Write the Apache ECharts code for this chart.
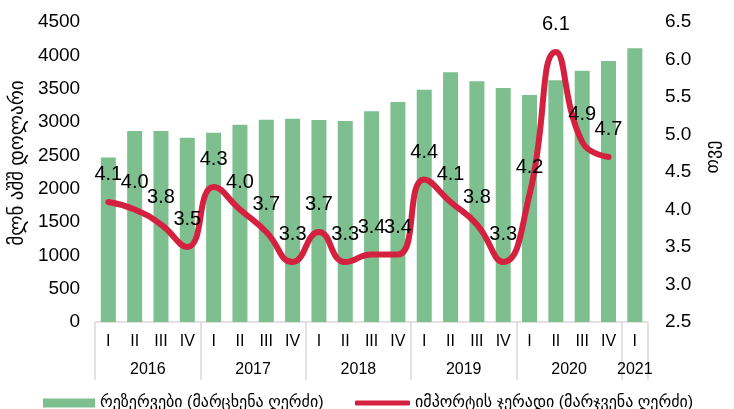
<!DOCTYPE html>
<html>
<head>
<meta charset="utf-8">
<script src="https://cdn.jsdelivr.net/npm/echarts@6/dist/echarts.min.js"></script>
<style>
  html, body { margin: 0; padding: 0; background: #fff; }
  #chart { width: 734px; height: 409px; }
</style>
</head>
<body>
<div id="chart"></div>
<script>
// quarters and years on the category axis
const quarters = ['I', 'II', 'III', 'IV', 'I', 'II', 'III', 'IV', 'I', 'II', 'III', 'IV',
  'I', 'II', 'III', 'IV', 'I', 'II', 'III', 'IV', 'I']
const years = ['2016', '2017', '2018', '2019', '2020', '2021']
const quartersPerYear = [4, 4, 4, 4, 4, 1]

// reserves, mln USD (left axis)
const reserves = [2466, 2865, 2865, 2765, 2840, 2960, 3035, 3050, 3030, 3015, 3160,
  3300, 3485, 3745, 3610, 3510, 3405, 3625, 3770, 3915, 4105]
// import cover, months (right axis)
const importCover = [4.1, 4.0, 3.8, 3.5, 4.3, 4.0, 3.7, 3.3, 3.7, 3.3, 3.4, 3.4,
  4.4, 4.1, 3.8, 3.3, 4.2, 6.1, 4.9, 4.7]

const leftTicks = { min: 0, max: 4500, interval: 500 }
const rightTicks = { min: 2.5, max: 6.5, interval: 0.5 }

const barName = 'რეზერვები (მარცხენა ღერძი)'
const lineName = 'იმპორტის ჯერადი (მარჯვენა ღერძი)'

const FONT = "'Liberation Sans', 'DejaVu Sans', sans-serif"
const GREEN = '#7dbf8f'
const RED = '#d3213f'
const GREY = '#d9d9d9'

/* year axis: half-quarter slots so labels sit at group centres */
const yearSlots = []
const yearTickIdx = [0]
let pos = 0
years.forEach((y, i) => {
  const n = quartersPerYear[i] * 2
  for (let k = 0; k < n; k++) yearSlots.push(k === n / 2 ? y : '')
  pos += n
  yearTickIdx.push(pos)
})
yearSlots.push('')

const chart = echarts.init(document.getElementById('chart'))

chart.setOption({
  animation: false,
  textStyle: { fontFamily: FONT },
  grid: { left: 93, right: 86, top: 22, bottom: 87 },
  legend: [
    {
      left: 38, top: 390,
      icon: 'rect', itemWidth: 52, itemHeight: 9,
      textStyle: { fontSize: 16, color: '#000', fontFamily: FONT },
      data: [barName]
    },
    {
      left: 350, top: 390,
      icon: 'roundRect', itemWidth: 55, itemHeight: 5,
      textStyle: { fontSize: 16, color: '#000', fontFamily: FONT },
      data: [lineName]
    }
  ],
  xAxis: [
    {
      type: 'category',
      data: quarters,
      position: 'bottom',
      axisLine: { lineStyle: { color: GREY, width: 1.5 } },
      axisTick: { show: false },
      axisLabel: { interval: 0, margin: 12, fontSize: 16, color: '#000', fontFamily: FONT }
    },
    {
      type: 'category',
      data: yearSlots,
      boundaryGap: false,
      position: 'bottom',
      axisLine: { show: false },
      axisTick: {
        show: true, length: 58,
        interval: (idx) => yearTickIdx.includes(idx),
        lineStyle: { color: GREY, width: 1.5 }
      },
      axisLabel: { interval: 0, margin: 40, fontSize: 16, color: '#000', fontFamily: FONT }
    }
  ],
  yAxis: [
    {
      type: 'value',
      ...leftTicks,
      name: 'მლნ აშშ დოლარი',
      nameLocation: 'middle',
      nameRotate: 90,
      nameGap: 68,
      nameTextStyle: { fontSize: 19, color: '#000', fontFamily: FONT, padding: [0, 0, 0, 18] },
      axisLine: { show: false },
      axisTick: { show: false },
      splitLine: { show: false },
      axisLabel: {
        margin: 15, fontSize: 19, color: '#000', fontFamily: FONT,
        formatter: (v) => String(v)
      }
    },
    {
      type: 'value',
      ...rightTicks,
      position: 'right',
      name: 'თვე',
      nameLocation: 'middle',
      nameRotate: 90,
      nameGap: 56,
      nameTextStyle: { fontSize: 18, color: '#000', fontFamily: FONT, padding: [0, 0, 0, 30] },
      axisLine: { show: false },
      axisTick: { show: false },
      splitLine: { show: false },
      axisLabel: {
        margin: 17, fontSize: 19, color: '#000', fontFamily: FONT,
        formatter: (v) => v.toFixed(1)
      }
    }
  ],
  series: [
    {
      name: barName,
      type: 'bar',
      xAxisIndex: 0,
      yAxisIndex: 0,
      data: reserves,
      barWidth: 15,
      itemStyle: { color: GREEN }
    },
    {
      name: lineName,
      type: 'line',
      xAxisIndex: 0,
      yAxisIndex: 1,
      data: importCover,
      smooth: 0.5,
      showSymbol: true,
      symbol: 'circle',
      symbolSize: 1,
      lineStyle: { color: RED, width: 6, cap: 'round' },
      itemStyle: { color: RED },
      label: {
        show: true,
        position: 'top',
        distance: 17,
        fontSize: 20,
        color: '#000',
        fontFamily: FONT,
        formatter: (p) => p.value.toFixed(1)
      }
    }
  ]
})
</script>
</body>
</html>
